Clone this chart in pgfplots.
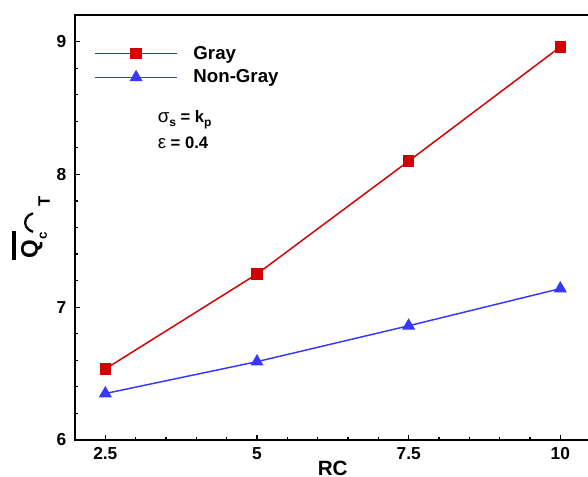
\documentclass[border=0pt]{standalone}
\usepackage{pgfplots}
\pgfplotsset{compat=1.18}
\usepackage{fontspec}
\setmainfont{Liberation Sans}
\definecolor{gred}{RGB}{210,0,0}
\definecolor{nblue}{RGB}{55,55,255}
\newsavebox\qbox
\newsavebox\arcbox
\sbox\arcbox{\tikz[baseline=0pt]{\draw[line width=1.7pt] (0,3.75pt) arc[start angle=160,end angle=20,x radius=7.45pt,y radius=9pt];}}
\newcommand{\ylab}{\bfseries
 \sbox\qbox{\fontsize{18}{18}\selectfont Q\raisebox{-6.75pt}{\fontsize{10}{10}\selectfont c}}%
 \rlap{\hspace{-1pt}\raisebox{16.5pt}{\rule{\dimexpr\wd\qbox+2pt\relax}{3pt}}}\usebox\qbox
 \hspace{-0.5pt}\usebox\arcbox
 \hspace{4pt}\raisebox{-9pt}{\fontsize{12.5}{12.5}\selectfont T}}
\begin{document}
\begin{tikzpicture}
\begin{axis}[
  scale only axis, width=409.5pt, height=318.75pt,
  xmin=2, xmax=11, ymin=6, ymax=9.2,
  xtick={2.5,5,7.5,10}, ytick={6,7,8,9},
  xticklabels={2.5,5,7.5,10},
  minor x tick num=4, minor y tick num=4,
  tick align=inside, xtick pos=bottom, ytick pos=left,
  major tick length=4pt, minor tick length=2.3pt,
  axis line style={line width=1.5pt},
  every tick/.style={black, line width=0.9pt},
  /pgf/number format/assume math mode=true,
  ticklabel style={font=\bfseries\fontsize{13}{13}\selectfont},
  xticklabel style={yshift=-2pt},
  yticklabel style={xshift=-3pt},
  xlabel={\bfseries\fontsize{15.5}{15.5}\selectfont RC},
  xlabel style={at={(axis description cs:0.472,0)}, anchor=north, yshift=-15.5pt, inner sep=0pt},
  ylabel={\ylab},
  ylabel style={at={(axis description cs:-0.0806,0.5)}, anchor=center, rotate=0, inner sep=0pt},
  legend style={draw=none, fill=none, at={(axis description cs:0.027,0.94)}, anchor=north west,
    font=\bfseries\fontsize{14}{14}\selectfont, row sep=2.5pt},
  legend cell align=left,
  legend image code/.code={\draw[mark repeat=2,mark phase=2] plot coordinates {(0pt,0pt) (31pt,0pt) (62pt,0pt)};
    \path (71.5pt,0pt);},
]
\addplot[gred, line width=1.1pt, mark=square*, mark size=3.75pt, mark options={solid}]
  coordinates {(2.5,6.535) (5,7.25) (7.5,8.10) (10,8.96)};
\addlegendentry{Gray}
\addplot[nblue, line width=1.1pt, mark=triangle*, mark size=4.6pt, mark options={solid}]
  coordinates {(2.5,6.35) (5,6.59) (7.5,6.86) (10,7.14)};
\addlegendentry{Non-Gray}
\node[anchor=west, inner sep=0pt, font=\bfseries\fontsize{12.5}{12.5}\selectfont] at (axis cs:3.36,8.41)
  {{\mdseries\fontsize{14}{14}\selectfont σ}\raisebox{-3pt}{\fontsize{9}{9}\selectfont s} = k\raisebox{-3pt}{\fontsize{9}{9}\selectfont p}};
\node[anchor=west, inner sep=0pt, font=\bfseries\fontsize{12.5}{12.5}\selectfont] at (axis cs:3.36,8.235)
  {{\mdseries\fontsize{14}{14}\selectfont ε} = 0.4};
\coordinate (O) at (rel axis cs:0,0);
\end{axis}
\pgfresetboundingbox
\path ([shift={(-56.25pt,-27pt)}]O) rectangle ([shift={(384.75pt,330pt)}]O);
\end{tikzpicture}
\end{document}
